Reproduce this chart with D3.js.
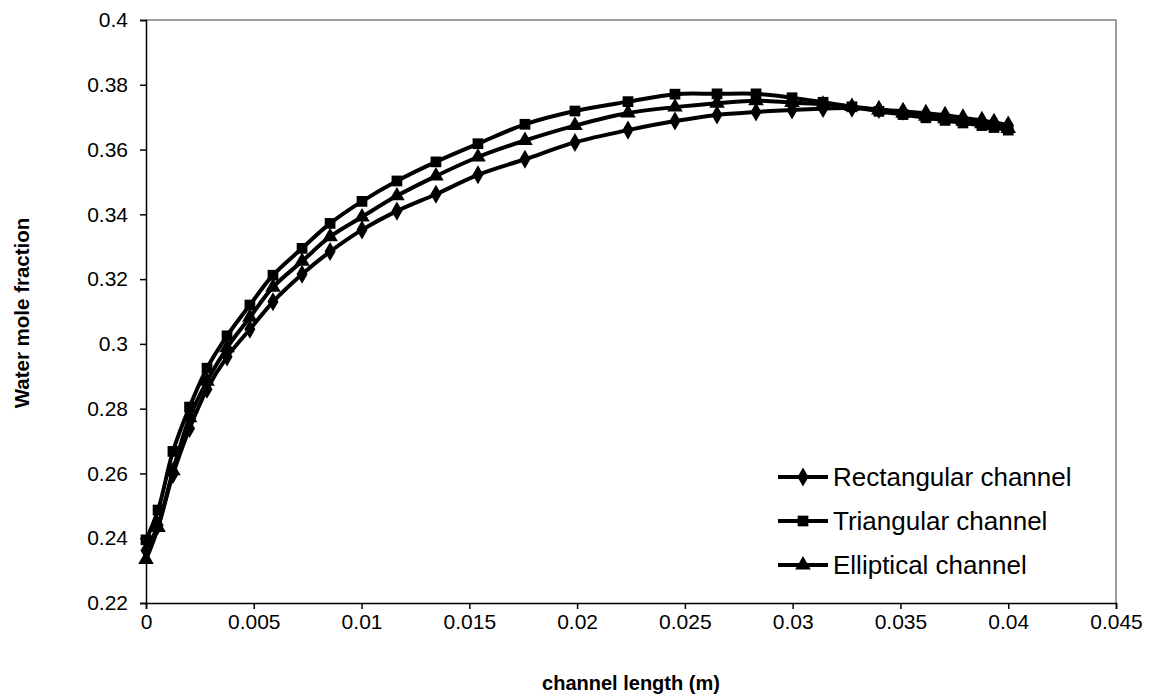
<!DOCTYPE html>
<html>
<head>
<meta charset="utf-8">
<script src="https://cdnjs.cloudflare.com/ajax/libs/d3/7.8.5/d3.min.js"></script>
<style>
	body { margin: 0; background: #fff; }
	text { font-family: "Liberation Sans", Arial, sans-serif; fill: #000; }
</style>
</head>
<body>
<svg width="1154" height="696"></svg>
<script>
// data
var channelLength = [0, 0.00056, 0.00125, 0.00202, 0.00283, 0.00376, 0.00482, 0.00589, 0.00724, 0.00854,
	0.01002, 0.01164, 0.01345, 0.0154, 0.01758, 0.0199, 0.02236, 0.02454, 0.02649, 0.0283,
	0.02997, 0.03141, 0.03275, 0.034, 0.03512, 0.03618, 0.03707, 0.0379, 0.03878, 0.03934, 0.04];

var rectangular = [0.2362, 0.2440, 0.2597, 0.2739, 0.2860, 0.2960, 0.3045, 0.3130, 0.3215, 0.3285,
	0.3352, 0.3410, 0.3462, 0.3522, 0.3570, 0.3622, 0.3660, 0.3688, 0.3707, 0.3716,
	0.3722, 0.3727, 0.3728, 0.3724, 0.3718, 0.3712, 0.3706, 0.3698, 0.3690, 0.3684, 0.3676];

var triangular = [0.2395, 0.2487, 0.2668, 0.2805, 0.2925, 0.3025, 0.3120, 0.3212, 0.3295, 0.3372,
	0.3440, 0.3503, 0.3562, 0.3618, 0.3678, 0.3719, 0.3748, 0.3771, 0.3772, 0.3772,
	0.3760, 0.3746, 0.3732, 0.3718, 0.3708, 0.3698, 0.3690, 0.3682, 0.3674, 0.3668, 0.3660];

var elliptical = [0.2334, 0.2433, 0.2608, 0.2772, 0.2885, 0.2988, 0.3082, 0.3175, 0.3255, 0.3331,
	0.3392, 0.3457, 0.3518, 0.3577, 0.3628, 0.3674, 0.3713, 0.3731, 0.3743, 0.3751,
	0.3745, 0.3740, 0.3733, 0.3722, 0.3712, 0.3703, 0.3695, 0.3687, 0.3680, 0.3674, 0.3665];

var seriesNames = ["Rectangular channel", "Triangular channel", "Elliptical channel"];
var seriesMarkers = [d3.symbolDiamond, d3.symbolSquare, d3.symbolTriangle];

var xTicks = [0, 0.005, 0.01, 0.015, 0.02, 0.025, 0.03, 0.035, 0.04, 0.045];
var yTicks = [0.22, 0.24, 0.26, 0.28, 0.3, 0.32, 0.34, 0.36, 0.38, 0.4];

// The svg
var svg = d3.select("svg");

var plot = { left: 146, right: 1116, top: 20, bottom: 603 };

var x = d3.scaleLinear()
	.domain([0, 0.045])
	.range([plot.left, plot.right]);

var y = d3.scaleLinear()
	.domain([0.22, 0.4])
	.range([plot.bottom, plot.top]);

// plot area border (top and right, grey)
svg.append("path")
	.attr("d", "M" + plot.left + "," + plot.top + "H" + plot.right + "V" + plot.bottom)
	.attr("fill", "none")
	.attr("stroke", "#808080")
	.attr("stroke-width", 1.5);

// axes
var xAxis = svg.append("g")
	.attr("transform", "translate(0," + plot.bottom + ")")
	.call(d3.axisBottom(x).tickValues(xTicks).tickSize(6).tickPadding(5)
		.tickFormat(d => d3.format("")(+d.toFixed(3))));

var yAxis = svg.append("g")
	.attr("transform", "translate(" + plot.left + ",0)")
	.call(d3.axisLeft(y).tickValues(yTicks).tickSize(6).tickPadding(12)
		.tickFormat(d => d3.format("")(+d.toFixed(2))));

[xAxis, yAxis].forEach(a => {
	a.select(".domain").attr("stroke", "#000").attr("stroke-width", 1.5);
	a.selectAll(".tick line").attr("stroke", "#000").attr("stroke-width", 1.5);
	a.selectAll(".tick text")
		.style("font-family", "'Liberation Sans', Arial, sans-serif")
		.style("font-size", "21px")
		.attr("fill", "#000");
});

// axis titles
svg.append("text")
	.attr("x", 631)
	.attr("y", 690)
	.attr("text-anchor", "middle")
	.style("font-size", "20px")
	.style("font-weight", "bold")
	.text("channel length (m)");

svg.append("text")
	.attr("transform", "translate(29,313) rotate(-90)")
	.attr("text-anchor", "middle")
	.style("font-size", "20.5px")
	.style("font-weight", "bold")
	.text("Water mole fraction");

// series lines and markers
var allSeries = [rectangular, triangular, elliptical];

var line = d3.line()
	.x(d => x(d[0]))
	.y(d => y(d[1]))
	.curve(d3.curveCatmullRom);

allSeries.forEach((values, s) => {
	var pts = channelLength.map((c, i) => [c, values[i]]);

	svg.append("path")
		.datum(pts)
		.attr("d", line)
		.attr("fill", "none")
		.attr("stroke", "#000")
		.attr("stroke-width", 4);

	svg.append("g")
		.selectAll("path")
		.data(pts)
		.enter()
		.append("path")
			.attr("transform", d => "translate(" + x(d[0]) + "," + y(d[1]) + ")")
			.attr("d", d3.symbol().type(seriesMarkers[s]).size(s == 1 ? 115 : 105))
			.attr("fill", "#000");
});

// legend
var legend = svg.append("g")
	.attr("transform", "translate(778,477)");

seriesNames.forEach((name, i) => {
	var row = legend.append("g")
		.attr("transform", "translate(0," + (i * 44) + ")");

	row.append("line")
		.attr("x1", 0)
		.attr("x2", 50)
		.attr("stroke", "#000")
		.attr("stroke-width", 4);

	row.append("path")
		.attr("transform", "translate(25,0)")
		.attr("d", d3.symbol().type(seriesMarkers[i]).size(i == 1 ? 115 : 105))
		.attr("fill", "#000");

	row.append("text")
		.attr("x", 55)
		.attr("dy", "0.35em")
		.style("font-size", "26px")
		.text(name);
});
</script>
</body>
</html>
